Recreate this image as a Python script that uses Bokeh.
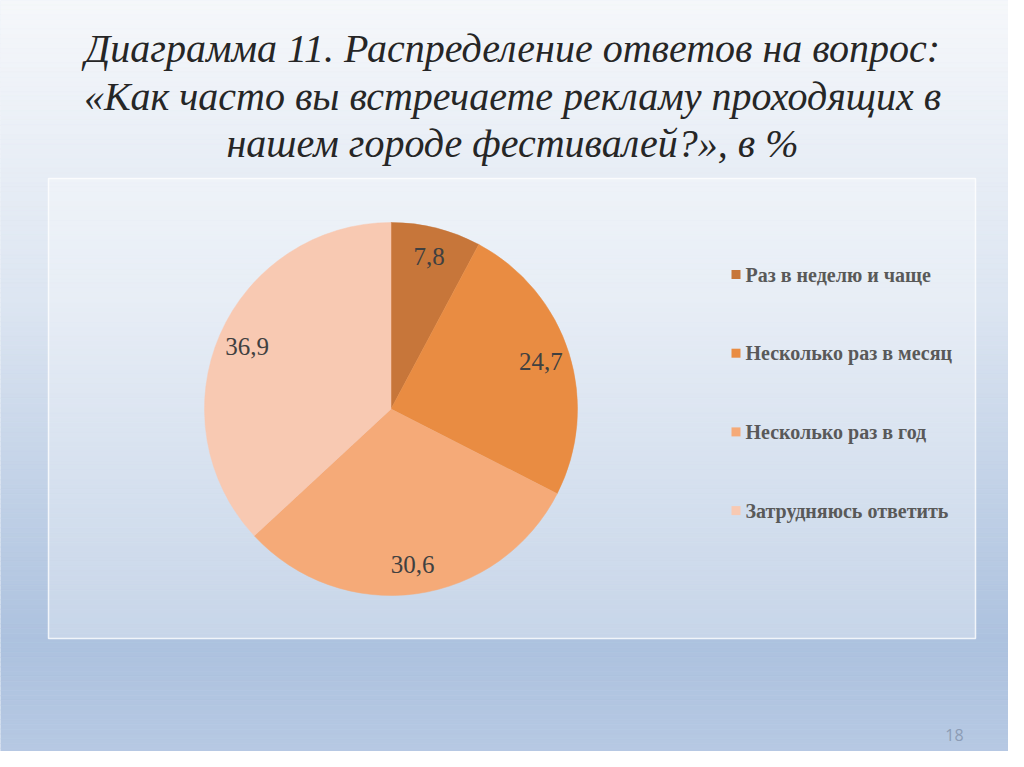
import numpy as np
from bokeh.plotting import figure
from bokeh.models import Range1d, ColumnDataSource
from bokeh.embed import file_html
from bokeh.resources import INLINE
from bokeh.core.properties import value

# ---------------- data ----------------
categories = ["Раз в неделю и чаще", "Несколько раз в месяц",
              "Несколько раз в год", "Затрудняюсь ответить"]
values = [7.8, 24.7, 30.6, 36.9]
value_labels = ["7,8", "24,7", "30,6", "36,9"]
colors = ["#c7763a", "#e98c42", "#f5aa78", "#f8c9b2"]
title_lines = ["Диаграмма 11. Распределение ответов на вопрос:",
               "«Как часто вы встречаете рекламу проходящих в",
               "нашем городе фестивалей?», в %"]
page_number = "18"

# ---------------- layout (screen-pixel coordinates) ----------------
W, H = 1008, 751


def Y(sy):
    return 767 - sy


p = figure(width=W, height=H, x_range=Range1d(0, 1008), y_range=Range1d(16, 767),
           output_backend="svg", toolbar_location=None, min_border=0)
p.axis.visible = False
p.grid.visible = False
p.outline_line_color = None
p.background_fill_color = "#dfe7f2"
p.border_fill_color = "#dfe7f2"

# background gradient (styling)
stops_y = [0, 300, 640, 767]
stops_c = [(246, 248, 251), (221, 230, 242), (173, 194, 223), (184, 202, 228)]
n = 160
edges = np.linspace(0, 767, n + 1)
mids = (edges[:-1] + edges[1:]) / 2
cols = []
for m in mids:
    r = np.interp(m, stops_y, [c[0] for c in stops_c])
    g = np.interp(m, stops_y, [c[1] for c in stops_c])
    b = np.interp(m, stops_y, [c[2] for c in stops_c])
    cols.append("#%02x%02x%02x" % (int(r), int(g), int(b)))
p.quad(left=0, right=1024, top=[Y(e) for e in edges[:-1]], bottom=[Y(e) for e in edges[1:]],
       fill_color=cols, line_color=cols, line_width=0.6)

# chart area box
p.quad(left=48, right=975, top=Y(178), bottom=Y(638), fill_color="white", fill_alpha=0.32,
       line_color="white", line_alpha=0.8, line_width=1.5)

# ---------------- pie ----------------
cx, cy, R = 390.5, Y(408.5), 186.5
vals = np.array(values)
cum = np.concatenate([[0], np.cumsum(vals)]) / vals.sum()
start = np.pi / 2 - cum[:-1] * 2 * np.pi
end = np.pi / 2 - cum[1:] * 2 * np.pi
src = ColumnDataSource(dict(start=start, end=end, color=colors, cat=categories))
p.wedge(x=cx, y=cy, radius=R, radius_units="screen", start_angle="start", end_angle="end",
        direction="clock", fill_color="color", line_color="color", line_width=0.5, source=src)

mid = (start + end) / 2
lr = 157
lsrc = ColumnDataSource(dict(x=cx + lr * np.cos(mid), y=cy + lr * np.sin(mid), t=value_labels))
p.text(x="x", y="y", text="t", source=lsrc, text_align="center", text_baseline="middle",
       text_font=value("Liberation Serif"), text_font_size="25px", text_color="#404040")

# ---------------- legend ----------------
ly = [Y(274 + i * 78.7) for i in range(len(categories))]
p.rect(x=735.5, y=ly, width=9, height=9, fill_color=colors, line_color=None)
p.text(x=745, y=ly, text=categories, text_align="left", text_baseline="middle",
       text_font=value("Liberation Serif"), text_font_style="bold", text_font_size="20px",
       text_color="#595959")

# ---------------- title ----------------
p.text(x=512, y=[Y(48), Y(96), Y(143)], text=title_lines, text_align="center",
       text_baseline="alphabetic", text_font=value("Liberation Serif"), text_font_style="italic",
       text_font_size="40px", text_color="#262626")

# page number
p.text(x=[954], y=[Y(734)], text=[page_number], text_align="center", text_baseline="middle",
       text_font=value("Open Sans"), text_font_size="16px", text_color="#8c9cb5")

open("out.html", "w").write(file_html(p, INLINE))
